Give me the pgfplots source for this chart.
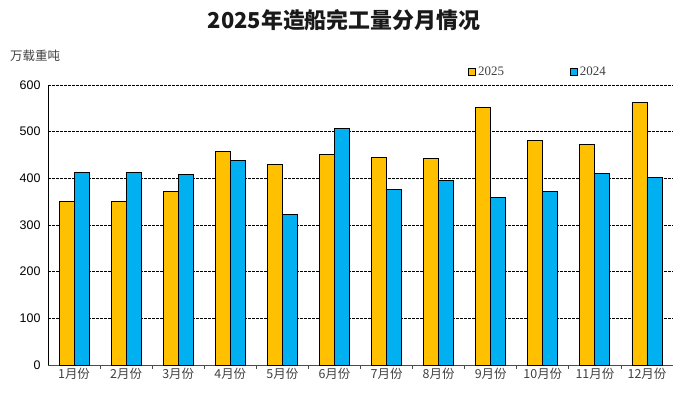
\documentclass[border=0pt]{standalone}
\usepackage{fontspec}
\setmainfont{Liberation Serif}
\newfontfamily\cjk{Noto Sans CJK SC}
\newfontfamily\arial{Liberation Sans}
\usepackage{pgfplots}
\pgfplotsset{compat=1.18}
\definecolor{cy}{HTML}{FFC000}
\definecolor{cb}{HTML}{00B0F0}
\definecolor{txt}{HTML}{404040}
\begin{document}
\begin{tikzpicture}
\useasboundingbox (0,0) rectangle (686bp,-398bp);
\node[font=\cjk\bfseries\fontsize{22}{25}\selectfont, text=black!90] at (344bp,-20bp) {2025年造船完工量分月情况};
\node[font=\cjk\fontsize{12.5}{14}\selectfont, text=txt, anchor=west, inner sep=0pt] at (10bp,-56bp) {万载重吨};
\begin{axis}[
  at={(48bp,-365bp)}, anchor=south west,
  width=625bp, height=280bp, scale only axis,
  xmin=-0.5, xmax=11.5, ymin=0, ymax=600,
  axis x line*=bottom, axis y line*=left,
  x axis line style={draw=gray!60!black, line width=1bp},
  y axis line style={draw=black, line width=0.8bp},
  ytick={0,100,...,600},
  ymajorgrids, grid style={black, line width=0.5bp, dash pattern=on 2.5bp off 1.5bp},
  xtick={0,...,11},
  xticklabels={1月份,2月份,3月份,4月份,5月份,6月份,7月份,8月份,9月份,10月份,11月份,12月份},
  minor xtick={0.5,1.5,...,10.5},
  tick align=inside, major tick length=0pt, minor tick length=4bp,
  minor tick style={draw=gray!60!black, line width=0.8bp},
  xticklabel style={font=\cjk\fontsize{12.5}{14}\selectfont, text=txt},
  yticklabel style={font=\arial\fontsize{12.5}{14}\selectfont, text=black, xshift=-4bp},
  /pgf/number format/assume math mode=true,
  ybar, bar width=15bp,
  legend columns=2,
  legend style={at={(0.672,1.047)}, anchor=west, draw=none, fill=none, inner sep=0pt,
    font=\fontsize{13}{15}\selectfont, text=txt,
    /tikz/every even column/.append style={column sep=64bp}},
  legend image code/.code={\draw[#1, draw=black, line width=0.9bp] (0bp,-3.5bp) rectangle (7bp,3.5bp);},
]
\addplot[fill=cy, draw=black, line width=0.9bp, bar shift=-7.5bp] coordinates {
(0,350) (1,350) (2,372) (3,458) (4,430) (5,451) (6,445) (7,442) (8,552) (9,481) (10,472) (11,563)};
\addplot[fill=cb, draw=black, line width=0.9bp, bar shift=7.5bp] coordinates {
(0,412) (1,412) (2,408) (3,438) (4,322) (5,507) (6,377) (7,396) (8,359) (9,372) (10,410) (11,401)};
\legend{2025,2024}
\end{axis}
\end{tikzpicture}
\end{document}
